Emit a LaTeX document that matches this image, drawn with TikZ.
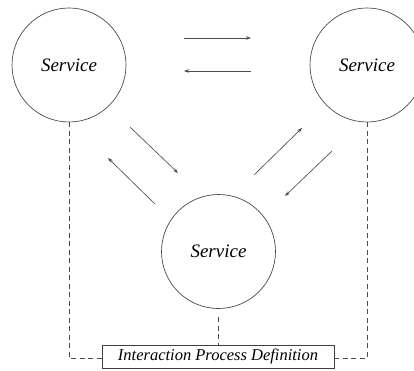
\documentclass[tikz,border=0pt]{standalone}
\usepackage{fontspec}
\setmainfont{Liberation Serif}
\usetikzlibrary{arrows.meta}
\begin{document}
\begin{tikzpicture}[x=1pt,y=-1pt,
  line width=0.65pt,
  svc/.style={circle,draw=black!75,minimum size=114pt,inner sep=0pt,
    font=\fontsize{19}{22}\selectfont\itshape},
  defbox/.style={draw=black!75,minimum width=232pt,minimum height=23pt,inner sep=0pt,
    font=\fontsize{16.5}{20}\selectfont\itshape},
  msg/.style={draw=black!70,-{Stealth[length=5pt,width=3.5pt]}},
  link/.style={draw=black!70,dashed,dash pattern=on 5pt off 3.5pt}]
\useasboundingbox (0,0) rectangle (414,371);
% services
\node[svc] (s1) at (69,65) {Service};
\node[svc] (s2) at (367,65) {Service};
\node[svc] (s3) at (218.5,251.5) {Service};
% interaction process definition
\node[defbox] (ipd) at (218,356.5) {Interaction Process Definition};
% message arrows
\coordinate (a1) at (184,38);  \coordinate (b1) at (251,38);
\coordinate (a2) at (251,71);  \coordinate (b2) at (184,71);
\coordinate (a3) at (130,127); \coordinate (b3) at (178,173);
\coordinate (a4) at (155,204); \coordinate (b4) at (108,158);
\coordinate (a5) at (254,175); \coordinate (b5) at (302,128);
\coordinate (a6) at (332,151); \coordinate (b6) at (285,196);
\draw[msg] (a1) -- (b1);
\draw[msg] (a2) -- (b2);
\draw[msg] (a3) -- (b3);
\draw[msg] (a4) -- (b4);
\draw[msg] (a5) -- (b5);
\draw[msg] (a6) -- (b6);
% dashed links to the definition
\coordinate (c1) at (69,358);
\coordinate (c2) at (367,358);
\coordinate (c3) at (218,317);
\draw[link] (s1.south) -- (c1) -- (c1 -| ipd.west);
\draw[link] (s2.south) -- (c2) -- (c2 -| ipd.east);
\draw[link] (c3) -- (ipd.north);
\end{tikzpicture}
\end{document}
